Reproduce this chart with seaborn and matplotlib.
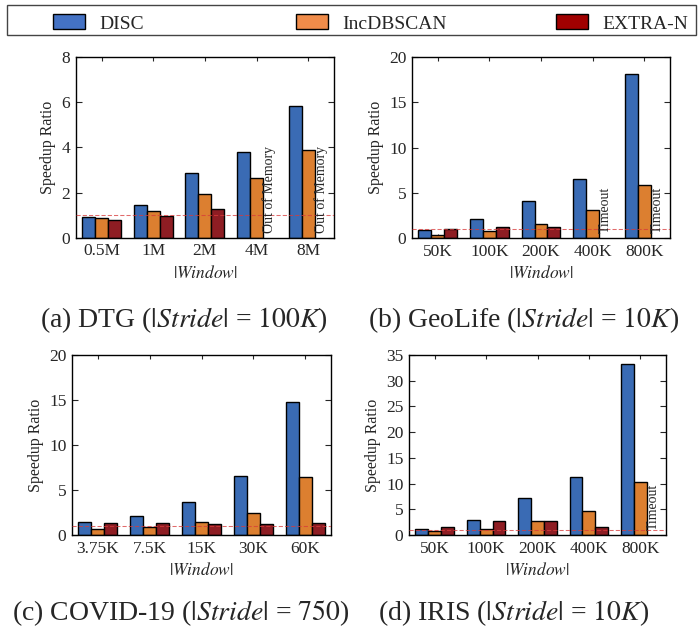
import numpy as np
import pandas as pd
import matplotlib
matplotlib.use('Agg')
import matplotlib.pyplot as plt
import matplotlib.transforms as mtransforms
from matplotlib.patches import Patch, Rectangle
import seaborn as sns

# ---------------- data ----------------
methods = ['DISC', 'IncDBSCAN', 'EXTRA-N']
bar_colors = ['#3a6bb4', '#dc7f30', '#8e1d23']
legend_colors = ['#4472c4', '#f08c4a', '#a00000']
nan = np.nan

dtg_windows = ['0.5M', '1M', '2M', '4M', '8M']
dtg_disc = [0.92, 1.46, 2.88, 3.80, 5.84]
dtg_inc = [0.87, 1.20, 1.94, 2.65, 3.90]
dtg_extra = [0.78, 0.95, 1.29, nan, nan]

geo_windows = ['50K', '100K', '200K', '400K', '800K']
geo_disc = [0.92, 2.10, 4.07, 6.50, 18.10]
geo_inc = [0.37, 0.74, 1.55, 3.10, 5.90]
geo_extra = [0.96, 1.18, 1.18, nan, nan]

covid_windows = ['3.75K', '7.5K', '15K', '30K', '60K']
covid_disc = [1.40, 2.07, 3.67, 6.55, 14.80]
covid_inc = [0.70, 0.89, 1.40, 2.40, 6.50]
covid_extra = [1.33, 1.33, 1.18, 1.18, 1.30]

iris_windows = ['50K', '100K', '200K', '400K', '800K']
iris_disc = [1.23, 2.85, 7.18, 11.25, 33.30]
iris_inc = [0.84, 1.10, 2.65, 4.66, 10.30]
iris_extra = [1.49, 2.65, 2.65, 1.55, nan]

panels = [
    dict(windows=dtg_windows, vals=[dtg_disc, dtg_inc, dtg_extra], ymax=8, step=2,
         note='Out of Memory', note_idx=[3, 4],
         caption=r'(a) DTG ($|Stride|$ = $100K$)'),
    dict(windows=geo_windows, vals=[geo_disc, geo_inc, geo_extra], ymax=20, step=5,
         note='Timeout', note_idx=[3, 4],
         caption=r'(b) GeoLife ($|Stride|$ = $10K$)'),
    dict(windows=covid_windows, vals=[covid_disc, covid_inc, covid_extra], ymax=20, step=5,
         note=None, note_idx=[],
         caption=r'(c) COVID-19 ($|Stride|$ = $750$)'),
    dict(windows=iris_windows, vals=[iris_disc, iris_inc, iris_extra], ymax=35, step=5,
         note='Timeout', note_idx=[4],
         caption=r'(d) IRIS ($|Stride|$ = $10K$)'),
]

# ---------------- style ----------------
sns.set_style('ticks')
plt.rcParams['font.family'] = ['Liberation Serif', 'DejaVu Serif']
plt.rcParams['mathtext.fontset'] = 'stix'
plt.rcParams['axes.linewidth'] = 1.0

W, H = 698, 633
fig = plt.figure(figsize=(W / 100, H / 100), dpi=100)

# axes rectangles in pixels: left, top, right, bottom
rects = [(75.7, 57, 334, 237.7), (412, 57, 670, 238),
         (72, 355, 331, 535), (409, 355, 666, 535)]
captions_xy = [(184, 320), (524, 320), (181, 613), (514, 613)]

for p, (l, t, r, b), (cx, cy) in zip(panels, rects, captions_xy):
    ax = fig.add_axes([l / W, 1 - b / H, (r - l) / W, (b - t) / H])
    rows = []
    for m, v in zip(methods, p['vals']):
        for w, val in zip(p['windows'], v):
            rows.append(dict(window=w, method=m, ratio=val))
    df = pd.DataFrame(rows)
    sns.barplot(data=df, x='window', y='ratio', hue='method', order=p['windows'],
                hue_order=methods, palette=bar_colors, saturation=1, width=0.75,
                errorbar=None, edgecolor='black', linewidth=1.0, legend=False, ax=ax)
    ax.axhline(1, color='#d83a3a', ls=(0, (4, 2)), lw=0.75, alpha=0.75, zorder=3)
    ax.set_xlim(-0.5, len(p['windows']) - 0.5)
    ax.set_ylim(0, p['ymax'])
    ax.set_yticks(np.arange(0, p['ymax'] + 0.01, p['step']))
    ax.tick_params(axis='y', direction='in', right=True, left=True, length=4,
                   labelsize=12.5, width=0.8, pad=4)
    ax.tick_params(axis='x', direction='in', top=True, bottom=True, length=3,
                   labelsize=12.5, width=0.8, pad=4)
    for s in ax.spines.values():
        s.set_visible(True)
        s.set_color('black')
    ax.set_ylabel('Speedup Ratio', fontsize=11.5, labelpad=4)
    ax.set_xlabel(r'$|Window|$', fontsize=12.5, labelpad=4)
    if p['note']:
        trans = mtransforms.blended_transform_factory(ax.transData, ax.transAxes)
        for i in p['note_idx']:
            ax.text(i + 0.25, 0.025, p['note'], rotation=90, ha='center', va='bottom',
                    fontsize=10, transform=trans)
    fig.text(cx / W, 1 - cy / H, p['caption'], ha='center', va='center', fontsize=20)

# ---------------- legend ----------------
fig.add_artist(Rectangle((7 / W, 1 - 35 / H), 689 / W, 30 / H, transform=fig.transFigure,
                         fill=False, edgecolor='#444444', linewidth=1.0))
for m, c, x in zip(methods, legend_colors, [53, 296, 556]):
    fig.legend(handles=[Patch(facecolor=c, edgecolor='black', linewidth=1.0)], labels=[m],
               loc='center left', bbox_to_anchor=(x / W, 1 - 23.5 / H), frameon=False,
               fontsize=14, handlelength=1.65, handleheight=0.77, handletextpad=0.72,
               borderpad=0, borderaxespad=0)

fig.savefig('out.png', dpi=100)
